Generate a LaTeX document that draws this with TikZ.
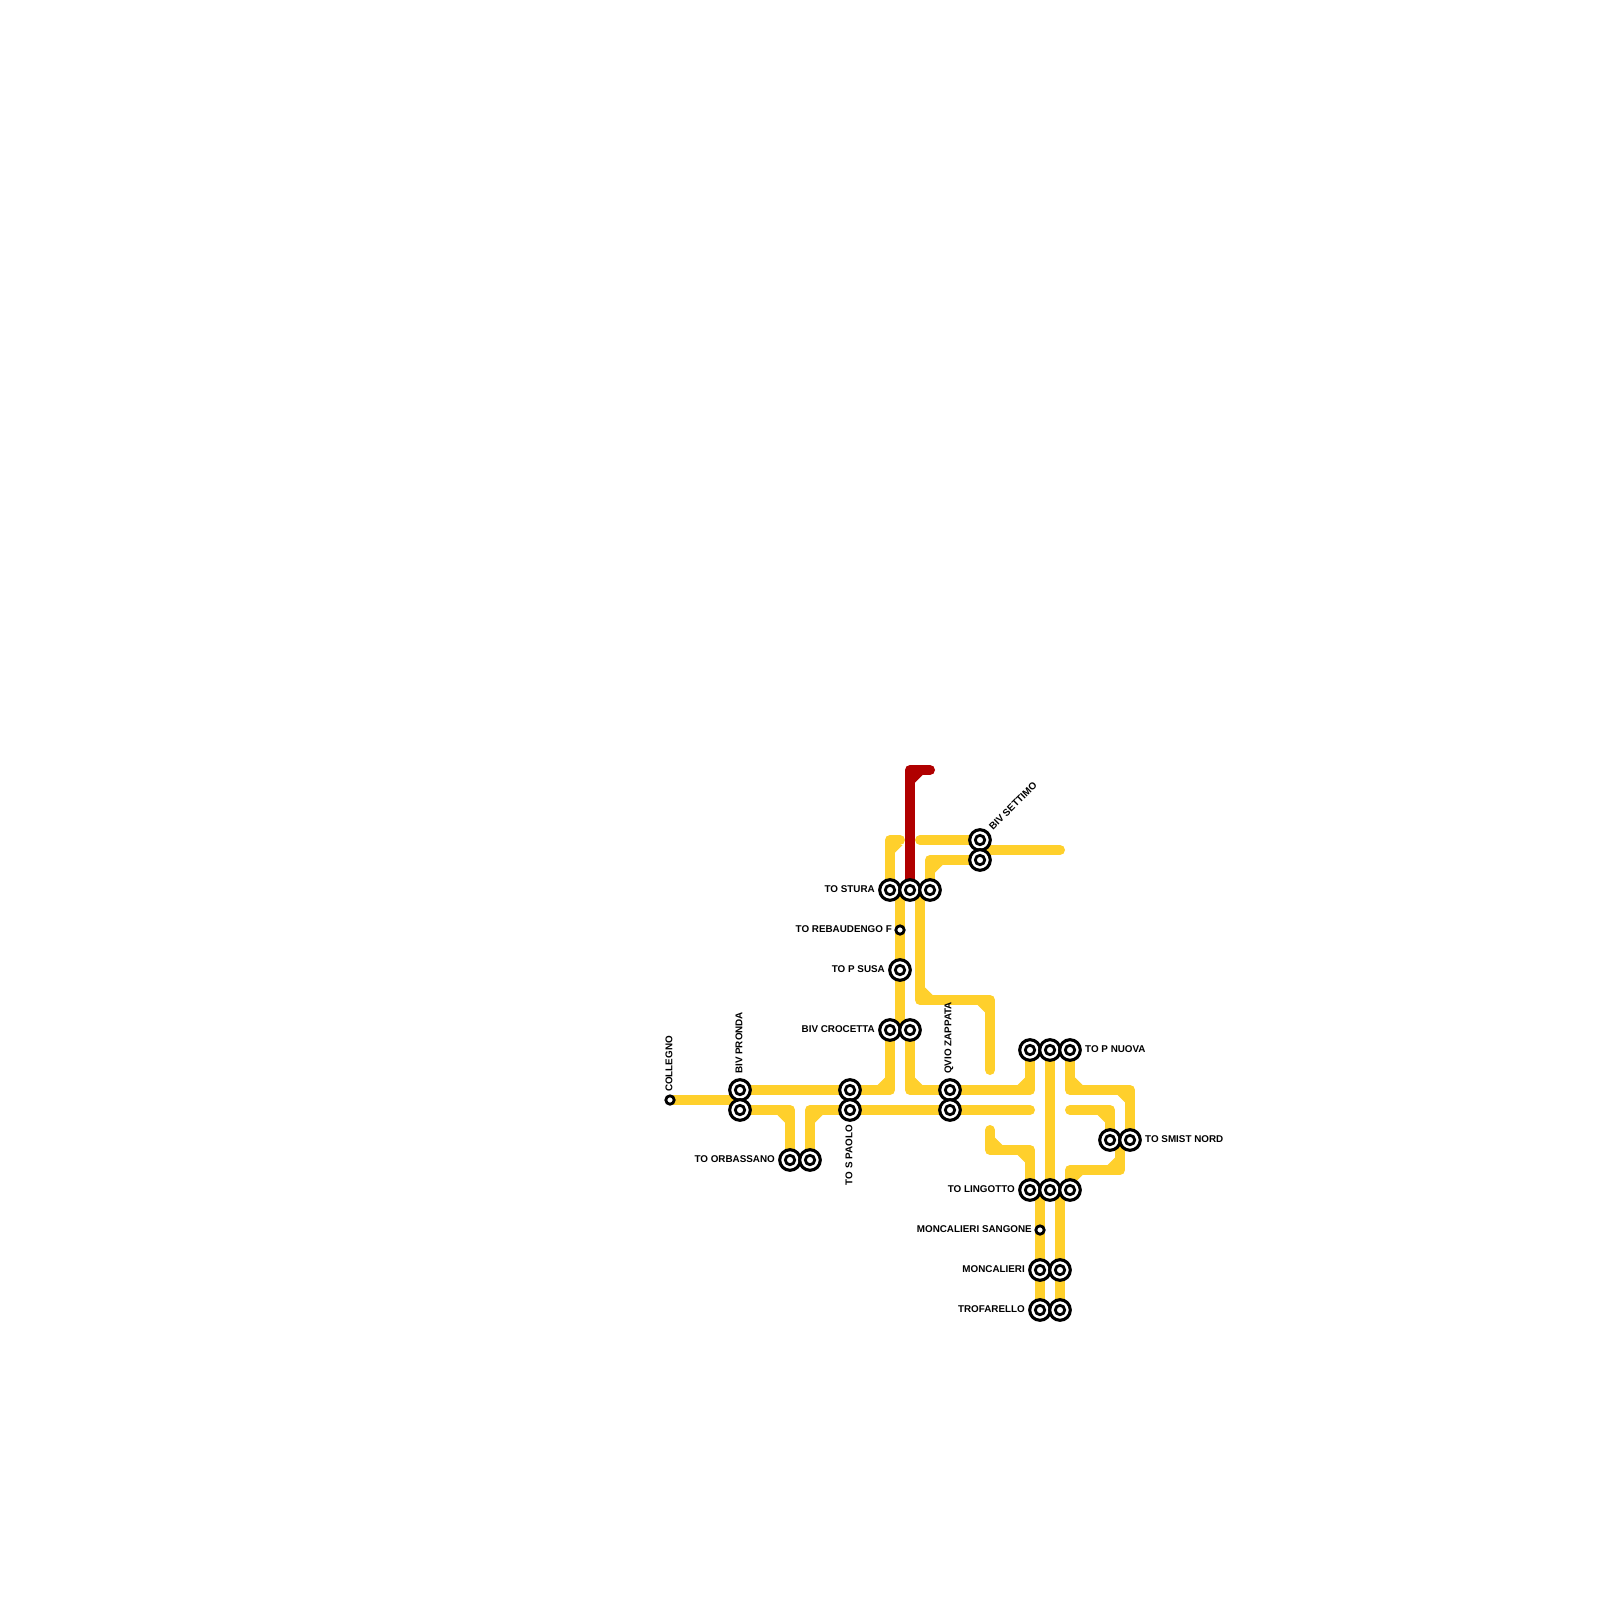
\documentclass[tikz,border=0pt]{standalone}
\usepackage{fontspec}
\setmainfont{Liberation Sans}
\usetikzlibrary{calc}
\pgfdeclarelayer{lines}
\pgfsetlayers{lines,main}
\definecolor{ylw}{RGB}{255,208,44}
\definecolor{rd}{RGB}{176,0,0}
\tikzset{
  yline/.style={draw=ylw,line width=10pt,line cap=round,line join=round},
  rline/.style={draw=rd,line width=10pt,line cap=round,line join=round},
  station/.style={circle,draw=black,fill=white,line width=3.1pt,minimum size=20.6pt,inner sep=0pt,
    path picture={\draw[black,line width=2.8pt] (path picture bounding box.center) circle (4.7pt);}},
  halt/.style={circle,draw=black,fill=white,line width=2.8pt,minimum size=8.4pt,inner sep=0pt},
  lbl/.style={inner sep=0pt,font=\fontsize{9.85}{12}\selectfont\bfseries,text=black},
}
% inner chamfer of a bend at corner (#2,#3), toward the quadrant (#4,#5)
\newcommand{\chamf}[5]{\fill[#1] ({#2+5*#4},{#3+5*#5}) -- ++({7.5*#4},0) -- ++({-7.5*#4},{7.5*#5}) -- cycle;}
\begin{document}
\begin{tikzpicture}[x=1pt,y=-1pt]
\useasboundingbox (0,0) rectangle (1600,1600);
% stations
\node[station] (sturaA) at (890,890) {};
\node[station] (sturaB) at (910,890) {};
\node[station] (sturaC) at (930,890) {};
\node[station] (settA) at (980,840) {};
\node[station] (settB) at (980,860) {};
\node[halt] (rebaud) at (900,930) {};
\node[station] (susa) at (900,970) {};
\node[station] (crocA) at (890,1030) {};
\node[station] (crocB) at (910,1030) {};
\node[halt] (colleg) at (670,1100) {};
\node[station] (prondA) at (740,1090) {};
\node[station] (prondB) at (740,1110) {};
\node[station] (paoloA) at (850,1090) {};
\node[station] (paoloB) at (850,1110) {};
\node[station] (orbA) at (790,1160) {};
\node[station] (orbB) at (810,1160) {};
\node[station] (zapA) at (950,1090) {};
\node[station] (zapB) at (950,1110) {};
\node[station] (nuovaA) at (1030,1050) {};
\node[station] (nuovaB) at (1050,1050) {};
\node[station] (nuovaC) at (1070,1050) {};
\node[station] (smistA) at (1110,1140) {};
\node[station] (smistB) at (1130,1140) {};
\node[station] (lingA) at (1030,1190) {};
\node[station] (lingB) at (1050,1190) {};
\node[station] (lingC) at (1070,1190) {};
\node[halt] (sangone) at (1040,1230) {};
\node[station] (moncA) at (1040,1270) {};
\node[station] (moncB) at (1060,1270) {};
\node[station] (trofA) at (1040,1310) {};
\node[station] (trofB) at (1060,1310) {};
% labels
\node[lbl,anchor=east] (tStura) at (875,889) {TO STURA};
\node[lbl,anchor=east] (tReb) at (892,929) {TO REBAUDENGO F};
\node[lbl,anchor=east] (tSusa) at (885,969) {TO P SUSA};
\node[lbl,anchor=east] (tCroc) at (875,1029) {BIV CROCETTA};
\node[lbl,anchor=east] (tOrb) at (775,1159) {TO ORBASSANO};
\node[lbl,anchor=east] (tLing) at (1015,1189) {TO LINGOTTO};
\node[lbl,anchor=east] (tSang) at (1032,1229) {MONCALIERI SANGONE};
\node[lbl,anchor=east] (tMonc) at (1025,1269) {MONCALIERI};
\node[lbl,anchor=east] (tTrof) at (1025,1309) {TROFARELLO};
\node[lbl,anchor=west] (tNuova) at (1085,1049) {TO P NUOVA};
\node[lbl,anchor=west] (tSmist) at (1145,1139) {TO SMIST NORD};
\node[lbl,anchor=west,rotate=90] (tColl) at (669,1092) {COLLEGNO};
\node[lbl,anchor=west,rotate=90] (tPron) at (739,1074) {BIV PRONDA};
\node[lbl,anchor=east,rotate=90] (tPao) at (849,1125) {TO S PAOLO};
\node[lbl,anchor=west,rotate=90] (tZap) at (949,1074) {QVIO ZAPPATA};
\node[lbl,anchor=west,rotate=45] (tSett) at (990.5,828.5) {BIV SETTIMO};
% free ends and junctions
\coordinate (redEnd) at (930,770);
\coordinate (stuMidA) at (900,890);
\coordinate (stuMidB) at (920,890);
\coordinate (crocMid) at (900,1030);
\coordinate (stubA) at (900,840);
\coordinate (stubB) at (920,840);
\coordinate (settMid) at (980,850);
\coordinate (settEnd) at (1060,850);
\coordinate (zapEnd) at (990,1070);
\coordinate (cornZ) at (990,1000);
\coordinate (pronMid) at (740,1100);
\coordinate (crossEnd) at (1030,1110);
\coordinate (nordBeg) at (1070,1110);
\coordinate (lingBeg) at (990,1130);
\coordinate (lingCorn) at (1030,1150);
\coordinate (smistMid) at (1120,1140);
\coordinate (smistCorn) at (1120,1170);
\coordinate (lingMidA) at (1040,1190);
\coordinate (lingMidB) at (1060,1190);
\coordinate (nuovaCorn) at (1130,1090);
\begin{pgfonlayer}{lines}
  % yellow
  \draw[yline] (sturaA.center) -- (890,840) -- (stubA);
  \draw[yline] (stubB) -- (settA.center);
  \draw[yline] (sturaC.center) |- (settB.center);
  \draw[yline] (settMid) -- (settEnd);
  \draw[yline] (stuMidA) -- (rebaud.center) -- (susa.center) -- (crocMid);
  \draw[yline] (stuMidB) |- (cornZ) -- (zapEnd);
  \draw[yline] (crocA.center) |- (paoloA.center);
  \draw[yline] (crocB.center) |- (zapA.center);
  \draw[yline] (prondA.center) -- (paoloA.center);
  \draw[yline] (colleg.center) -- (pronMid);
  \draw[yline] (prondB.center) -| (orbA.center);
  \draw[yline] (orbB.center) |- (paoloB.center);
  \draw[yline] (paoloB.center) -- (zapB.center) -- (crossEnd);
  \draw[yline] (zapA.center) -| (nuovaA.center);
  \draw[yline] (nuovaB.center) -- (lingB.center);
  \draw[yline] (nuovaC.center) |- (nuovaCorn) -- (smistB.center);
  \draw[yline] (nordBeg) -| (smistA.center);
  \draw[yline] (lingBeg) |- (lingCorn) -- (lingA.center);
  \draw[yline] (smistMid) -- (smistCorn) -| (lingC.center);
  \draw[yline] (lingMidA) -- (sangone.center) -- (moncA.center) -- (trofA.center);
  \draw[yline] (lingMidB) -- (moncB.center) -- (trofB.center);
  % yellow bend chamfers
  \chamf{ylw}{890}{840}{1}{1}
  \chamf{ylw}{930}{860}{1}{1}
  \chamf{ylw}{920}{1000}{1}{-1}
  \chamf{ylw}{990}{1000}{-1}{1}
  \chamf{ylw}{890}{1090}{-1}{-1}
  \chamf{ylw}{910}{1090}{1}{-1}
  \chamf{ylw}{790}{1110}{-1}{1}
  \chamf{ylw}{810}{1110}{1}{1}
  \chamf{ylw}{1030}{1090}{-1}{-1}
  \chamf{ylw}{1070}{1090}{1}{-1}
  \chamf{ylw}{1130}{1090}{-1}{1}
  \chamf{ylw}{1110}{1110}{-1}{1}
  \chamf{ylw}{990}{1150}{1}{-1}
  \chamf{ylw}{1030}{1150}{-1}{1}
  \chamf{ylw}{1120}{1170}{-1}{-1}
  \chamf{ylw}{1070}{1170}{1}{1}
  % red
  \draw[rline] (sturaB.center) |- (redEnd);
  \chamf{rd}{910}{770}{1}{1}
\end{pgfonlayer}
\end{tikzpicture}
\end{document}
